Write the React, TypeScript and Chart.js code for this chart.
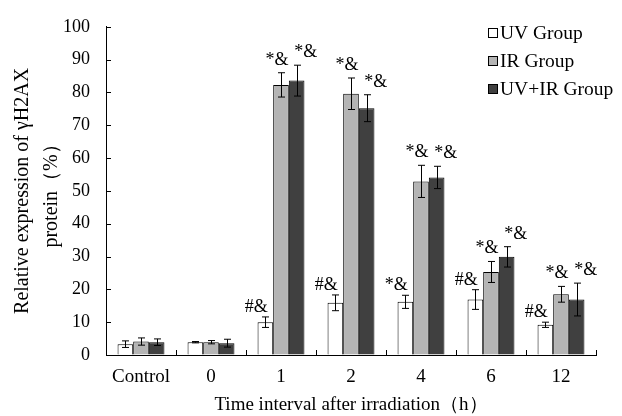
import React, { useEffect, useRef } from "react";
import { Chart, registerables } from "chart.js";

Chart.register(...registerables);

const categories = ["Control", "0", "1", "2", "4", "6", "12"];
const seriesNames = ["UV Group", "IR Group", "UV+IR Group"];
const uvValues = [3.3, 3.9, 10.0, 15.9, 16.2, 16.9, 9.2];
const uvErrors = [1.0, 0.2, 1.6, 2.4, 2.0, 3.0, 0.8];
const irValues = [4.1, 3.9, 82.3, 79.6, 52.9, 25.3, 18.5];
const irErrors = [1.1, 0.5, 3.7, 4.8, 4.9, 3.2, 2.4];
const uvirValues = [3.9, 3.6, 83.6, 75.2, 54.1, 29.9, 16.9];
const uvirErrors = [1.0, 1.2, 4.7, 4.1, 3.4, 3.1, 5.0];
const uvMarks = ["", "", "#&", "#&", "*&", "#&", "#&"];
const irMarks = ["", "", "*&", "*&", "*&", "*&", "*&"];
const uvirMarks = ["", "", "*&", "*&", "*&", "*&", "*&"];
const yMin = 0;
const yMax = 100;
const yStep = 10;
const xTitle = "Time interval after irradiation（h）";
const yTitle = ["Relative expression of γH2AX", "protein（%）"];

const FONT = "'Liberation Serif', 'Times New Roman', serif";
const colors = ["#ffffff", "#b4b4b4", "#404040"];
const markOffsets = [-9, -4, 9];
const markGaps = [5, 8, 8];

const errorsPlugin = {
  id: "errorsAndMarks",
  afterDatasetsDraw(chart: any) {
    const ctx = chart.ctx;
    const yScale = chart.scales.y;
    const errs = [uvErrors, irErrors, uvirErrors];
    const marks = [uvMarks, irMarks, uvirMarks];
    ctx.save();
    chart.data.datasets.forEach((ds: any, i: number) => {
      const meta = chart.getDatasetMeta(i);
      meta.data.forEach((el: any, j: number) => {
        const v = ds.data[j];
        const e = errs[i][j];
        const x = Math.round(el.x) + 0.5;
        const yTop = yScale.getPixelForValue(v + e);
        const yBot = yScale.getPixelForValue(v - e);
        ctx.strokeStyle = "#000";
        ctx.lineWidth = 1;
        ctx.beginPath();
        ctx.moveTo(x, yTop);
        ctx.lineTo(x, yBot);
        ctx.moveTo(x - 3.5, yTop);
        ctx.lineTo(x + 3.5, yTop);
        ctx.moveTo(x - 3.5, yBot);
        ctx.lineTo(x + 3.5, yBot);
        ctx.stroke();
        const m = marks[i][j];
        if (m) {
          ctx.fillStyle = "#000";
          ctx.font = `18px ${FONT}`;
          ctx.textAlign = "center";
          ctx.textBaseline = "alphabetic";
          ctx.fillText(m, el.x + markOffsets[i], yTop - markGaps[i]);
        }
      });
    });
    ctx.restore();
  },
  afterDraw(chart: any) {
    const ctx = chart.ctx;
    const { left, right, bottom } = chart.chartArea;
    const yScale = chart.scales.y;
    ctx.save();
    ctx.strokeStyle = "#000";
    ctx.lineWidth = 1;
    ctx.beginPath();
    yScale.ticks.forEach((t: any) => {
      const y = Math.round(yScale.getPixelForValue(t.value)) + 0.5;
      ctx.moveTo(left, y);
      ctx.lineTo(left + 5, y);
    });
    const n = categories.length;
    for (let i = 0; i <= n; i++) {
      const x = Math.round(left + (i * (right - left)) / n) + 0.5;
      ctx.moveTo(x, bottom);
      ctx.lineTo(x, bottom - 5);
    }
    ctx.stroke();
    // legend
    chart.data.datasets.forEach((ds: any, i: number) => {
      const yc = 33 + i * 28;
      ctx.fillStyle = ds.backgroundColor;
      ctx.fillRect(488.5, yc - 4.5, 9, 9);
      ctx.strokeStyle = "#000";
      ctx.strokeRect(488.5, yc - 4.5, 9, 9);
      ctx.fillStyle = "#000";
      ctx.font = `19.5px ${FONT}`;
      ctx.textAlign = "left";
      ctx.textBaseline = "middle";
      ctx.fillText(ds.label, 500, yc + 1);
    });
    ctx.restore();
  },
};

export default function App() {
  const ref = useRef<HTMLCanvasElement | null>(null);
  useEffect(() => {
    if (!ref.current) return;
    const values = [uvValues, irValues, uvirValues];
    const chart = new Chart(ref.current, {
      type: "bar",
      data: {
        labels: categories,
        datasets: seriesNames.map((name, i) => ({
          label: name,
          data: values[i],
          backgroundColor: colors[i],
          borderColor: "#000",
          borderWidth: 1,
          categoryPercentage: 0.67,
          barPercentage: 1,
        })),
      },
      options: {
        animation: false,
        responsive: false,
        layout: { padding: { top: 15, right: 26, left: 0, bottom: 0 } },
        plugins: {
          legend: { display: false },
          tooltip: { enabled: false },
        },
        scales: {
          x: {
            grid: { display: true, drawOnChartArea: false, drawTicks: false },
            border: { display: true, color: "#000", width: 1 },
            ticks: {
              color: "#000",
              font: { family: FONT, size: 19 },
              padding: 11,
              maxRotation: 0,
              autoSkip: false,
            },
            title: {
              display: true,
              text: xTitle,
              color: "#000",
              font: { family: FONT, size: 19, lineHeight: 1.1 },
              padding: { top: 0, bottom: 1 },
            },
            afterFit: (s: any) => {
              s.height = 61;
            },
          },
          y: {
            min: yMin,
            max: yMax,
            grid: { display: true, drawOnChartArea: false, drawTicks: false },
            border: { display: true, color: "#000", width: 1 },
            ticks: {
              stepSize: yStep,
              color: "#000",
              font: { family: FONT, size: 18 },
              padding: 16,
            },
            title: {
              display: true,
              text: yTitle,
              color: "#000",
              font: { family: FONT, size: 20, lineHeight: 1.45 },
              padding: { top: 8.5, bottom: 0 },
            },
            afterFit: (s: any) => {
              s.width = 106;
            },
          },
        },
      },
      plugins: [errorsPlugin],
    });
    return () => chart.destroy();
  }, []);
  return (
    <div style={{ position: "fixed", left: 0, top: 0, width: 622, height: 416, background: "#fff" }}>
      <canvas ref={ref} width={622} height={416} style={{ display: "block" }} />
    </div>
  );
}
